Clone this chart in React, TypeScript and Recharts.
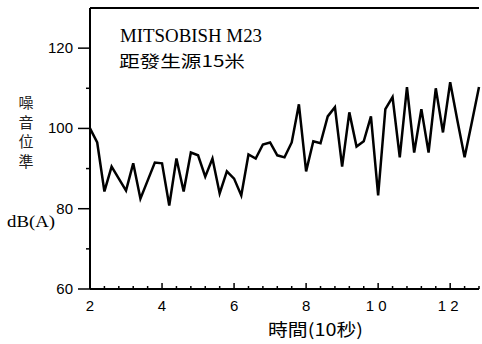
import { Line, LineChart, ReferenceLine, XAxis, YAxis } from "recharts";

const times = [
  2, 2.2, 2.4, 2.6, 2.8, 3, 3.2, 3.4, 3.6, 3.8, 4, 4.2, 4.4, 4.6, 4.8, 5, 5.2, 5.4, 5.6, 5.8, 6, 6.2, 6.4, 6.6,
  6.8, 7, 7.2, 7.4, 7.6, 7.8, 8, 8.2, 8.4, 8.6, 8.8, 9, 9.2, 9.4, 9.6, 9.8, 10, 10.2, 10.4, 10.6, 10.8, 11,
  11.2, 11.4, 11.6, 11.8, 12, 12.2, 12.4, 12.6, 12.8,
];

const levels = [
  100, 96.5, 84.3, 90.5, 87.5, 84.5, 91.3, 82.5, 87, 91.5, 91.3, 80.8, 92.5, 84.3, 94, 93.3, 88, 92.5, 83.8,
  89.3, 87.5, 83.3, 93.5, 92.5, 96, 96.5, 93.3, 92.8, 96.5, 106, 89.3, 96.8, 96.3, 103, 105.3, 90.5, 104, 95.5,
  96.8, 103, 83.3, 104.8, 107.8, 92.8, 110.3, 94, 104.8, 94, 110, 99, 111.5, 102, 92.8, 101.5, 110.3,
];

const xTicks = [
  2, 2.4, 2.8, 3.2, 3.6, 4, 4.4, 4.8, 5.2, 5.6, 6, 6.4, 6.8, 7.2, 7.6, 8, 8.4, 8.8, 9.2, 9.6, 10, 10.4, 10.8,
  11.2, 11.6, 12, 12.4, 12.8,
];
const xLabels = [2, 4, 6, 8, 10, 12];
const yTicks = [60, 70, 80, 90, 100, 110, 120];
const yLabels = [60, 80, 100, 120];

const data = times.map((t, i) => ({ t, v: levels[i] }));

const tickFont = { fontFamily: "'Liberation Sans', Arial, sans-serif", fontSize: 15, fill: "#000" };

function XTick({ x, y, payload }: any) {
  const major = xLabels.includes(payload.value);
  return (
    <g>
      <line x1={x} x2={x} y1={y} y2={y - (major ? 6 : 3)} stroke="#000" strokeWidth={1.5} />
      {major && (
        <text x={x} y={y + 22} textAnchor="middle" letterSpacing={payload.value >= 10 ? 4 : 0} {...tickFont}>
          {payload.value}
        </text>
      )}
    </g>
  );
}

function YTick({ x, y, payload }: any) {
  const major = yLabels.includes(payload.value);
  return (
    <g>
      <line x1={x - (major ? 12 : 4)} x2={x} y1={y} y2={y} stroke="#000" strokeWidth={1.5} />
      {major && (
        <text x={x - 17} y={y + 5} textAnchor="end" {...tickFont}>
          {payload.value}
        </text>
      )}
    </g>
  );
}

const cjk = "'Noto Sans CJK TC', 'Noto Sans CJK SC', sans-serif";
const serif = "'Liberation Serif', 'DejaVu Serif', serif";

export default function App() {
  return (
    <div style={{ position: "fixed", left: 0, top: 0, width: 482, height: 344, background: "#fff" }}>
      <LineChart width={482} height={344} data={data} margin={{ top: 8, right: 3, left: 0, bottom: 0 }}>
        <XAxis
          dataKey="t"
          type="number"
          domain={[2, 12.8]}
          ticks={xTicks}
          interval={0}
          height={55}
          tickSize={0}
          tickMargin={0}
          tickLine={false}
          tick={<XTick />}
          axisLine={{ stroke: "#000", strokeWidth: 2 }}
        />
        <YAxis
          type="number"
          domain={[60, 130]}
          ticks={yTicks}
          interval={0}
          width={90}
          tickSize={0}
          tickMargin={0}
          tickLine={false}
          tick={<YTick />}
          axisLine={{ stroke: "#000", strokeWidth: 2 }}
        />
        <ReferenceLine y={130} stroke="#000" strokeWidth={2} />
        <Line
          type="linear"
          dataKey="v"
          stroke="#000"
          strokeWidth={2.5}
          dot={false}
          isAnimationActive={false}
        />
      </LineChart>
      <svg
        width={482}
        height={344}
        style={{ position: "absolute", left: 0, top: 0, pointerEvents: "none" }}
      >
        <text x={120} y={42} fontFamily={serif} fontSize={19} textLength={142} lengthAdjust="spacingAndGlyphs">
          MITSOBISH M23
        </text>
        <text x={119} y={67} fontFamily={cjk} fontSize={16} textLength={126} lengthAdjust="spacingAndGlyphs">
          距發生源15米
        </text>
        {["噪", "音", "位", "準"].map((c, i) => (
          <text key={c} x={26} y={108 + i * 19.7} textAnchor="middle" fontFamily={cjk} fontSize={15} fill="#222">
            {c}
          </text>
        ))}
        <text x={7} y={227} fontFamily={serif} fontSize={17} textLength={48} lengthAdjust="spacingAndGlyphs">
          dB(A)
        </text>
        <text x={268} y={336} fontFamily={cjk} fontSize={17} textLength={95} lengthAdjust="spacingAndGlyphs">
          時間(10秒)
        </text>
      </svg>
    </div>
  );
}
